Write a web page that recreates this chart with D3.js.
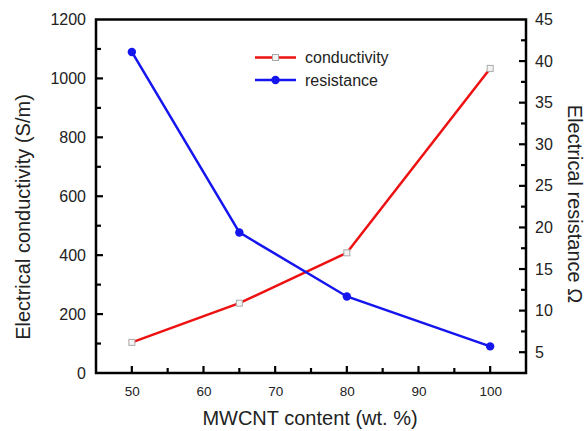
<!DOCTYPE html>
<html><head><meta charset="utf-8">
<script src="https://cdn.jsdelivr.net/npm/d3@7"></script>
<style>
body{margin:0;background:#fff;}
text{font-family:"Liberation Sans",Arial,sans-serif;fill:#222;}
</style></head>
<body><svg id="c" width="587" height="431"></svg>
<script>
const content = [50, 65, 80, 100];
const conductivity = [104, 237, 408, 1034];
const resistance = [41.1, 19.4, 11.7, 5.7];
const xTicks = [50, 60, 70, 80, 90, 100];
const yLeftTicks = [0, 200, 400, 600, 800, 1000, 1200];
const yRightTicks = [5, 10, 15, 20, 25, 30, 35, 40, 45];
const seriesNames = ["conductivity", "resistance"];

const L = 96, R = 526, T = 19.5, B = 373;
const svg = d3.select("#c");
const x = d3.scaleLinear().domain([45, 105]).range([L, R]);
const yL = d3.scaleLinear().domain([0, 1200]).range([B, T]);
const yR = d3.scaleLinear().domain([2.5, 45]).range([B, T]);

const bottom = svg.append("g").attr("transform", `translate(0,${B})`)
  .call(d3.axisBottom(x).tickValues(xTicks).tickFormat(d3.format("d")).tickSize(0).tickPadding(13));
bottom.selectAll(".tick text").style("font-size", "13.5px");
svg.append("g").selectAll("line").data(d3.range(50, 101, 5)).join("line")
  .attr("x1", d => x(d)).attr("x2", d => x(d))
  .attr("y1", B).attr("y2", d => B - (d % 10 === 0 ? 7 : 5))
  .attr("stroke", "#000").attr("stroke-width", 2.2);

const left = svg.append("g").attr("transform", `translate(${L},0)`)
  .call(d3.axisLeft(yL).tickValues(yLeftTicks).tickFormat(d3.format("d")).tickSize(0).tickPadding(10));
left.selectAll(".tick text").style("font-size", "16px");
svg.append("g").selectAll("line").data(d3.range(100, 1200, 100)).join("line")
  .attr("x1", L).attr("x2", d => L + (d % 200 === 0 ? 7 : 5))
  .attr("y1", d => yL(d)).attr("y2", d => yL(d))
  .attr("stroke", "#000").attr("stroke-width", 2.2);

const right = svg.append("g").attr("transform", `translate(${R},0)`)
  .call(d3.axisRight(yR).tickValues(yRightTicks).tickFormat(d3.format("d")).tickSize(0).tickPadding(9));
right.selectAll(".tick text").style("font-size", "16px");
svg.append("g").selectAll("line").data(d3.range(5, 45, 2.5)).join("line")
  .attr("x1", R).attr("x2", d => R - (d % 5 === 0 ? 7 : 5))
  .attr("y1", d => yR(d)).attr("y2", d => yR(d))
  .attr("stroke", "#000").attr("stroke-width", 2.2);

svg.selectAll(".domain").remove();
svg.append("rect").attr("x", L).attr("y", T).attr("width", R - L).attr("height", B - T)
  .attr("fill", "none").attr("stroke", "#000").attr("stroke-width", 2.5);

const condData = content.map((c, i) => [c, conductivity[i]]);
const resData = content.map((c, i) => [c, resistance[i]]);
svg.append("path").datum(condData)
  .attr("d", d3.line().x(d => x(d[0])).y(d => yL(d[1])))
  .attr("fill", "none").attr("stroke", "#ee1111").attr("stroke-width", 2.5);
svg.append("path").datum(resData)
  .attr("d", d3.line().x(d => x(d[0])).y(d => yR(d[1])))
  .attr("fill", "none").attr("stroke", "#1515ee").attr("stroke-width", 2.5);
svg.append("g").selectAll("rect").data(condData).join("rect")
  .attr("x", d => x(d[0]) - 3).attr("y", d => yL(d[1]) - 3)
  .attr("width", 6).attr("height", 6)
  .attr("fill", "#f4f4f4").attr("stroke", "#aaa").attr("stroke-width", 1);
svg.append("g").selectAll("circle").data(resData).join("circle")
  .attr("cx", d => x(d[0])).attr("cy", d => yR(d[1])).attr("r", 4.2)
  .attr("fill", "#1515ee");

const lg = svg.append("g");
const lgY = [57.5, 80];
const lgCol = ["#ee1111", "#1515ee"];
seriesNames.forEach((n, i) => {
  lg.append("line").attr("x1", 255).attr("x2", 296).attr("y1", lgY[i]).attr("y2", lgY[i])
    .attr("stroke", lgCol[i]).attr("stroke-width", 2.5);
  if (i === 0) {
    lg.append("rect").attr("x", 272.5).attr("y", lgY[i] - 3).attr("width", 6).attr("height", 6)
      .attr("fill", "#f4f4f4").attr("stroke", "#aaa").attr("stroke-width", 1);
  } else {
    lg.append("circle").attr("cx", 275.5).attr("cy", lgY[i]).attr("r", 4.2).attr("fill", lgCol[i]);
  }
  lg.append("text").attr("x", 305).attr("y", lgY[i]).attr("dy", "0.35em")
    .style("font-size", "16px").text(n);
});

svg.append("text").attr("x", 310).attr("y", 425).attr("text-anchor", "middle")
  .style("font-size", "20px").text("MWCNT content (wt. %)");
svg.append("text").attr("transform", "translate(30,217) rotate(-90)")
  .attr("text-anchor", "middle").style("font-size", "20px")
  .text("Electrical conductivity (S/m)");
svg.append("text").attr("transform", "translate(568,204) rotate(90)")
  .attr("text-anchor", "middle").style("font-size", "20px")
  .text("Electrical resistance Ω");
</script></body></html>
